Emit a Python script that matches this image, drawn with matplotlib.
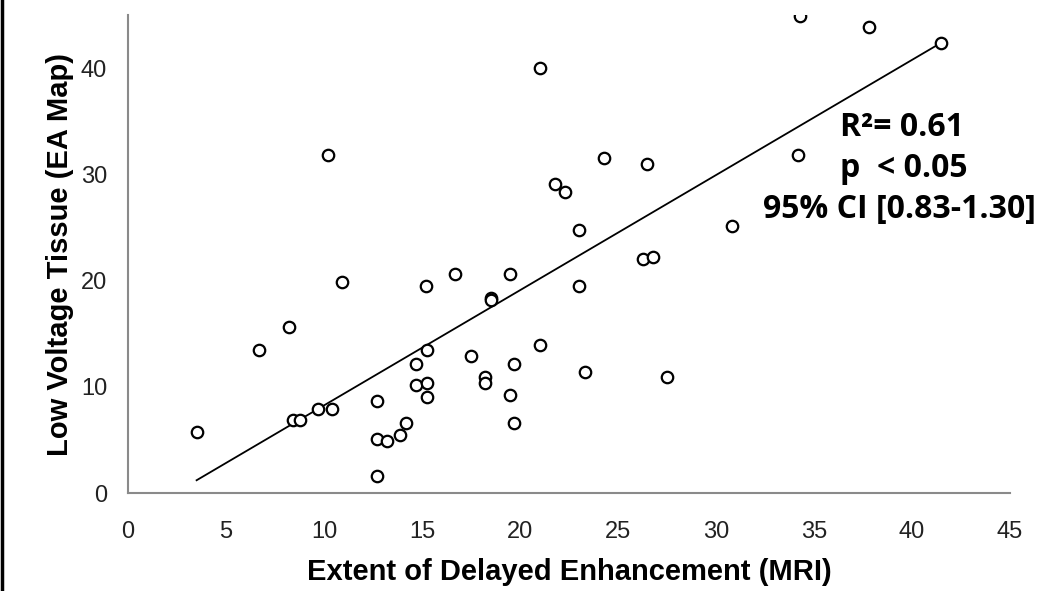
import numpy as np
import matplotlib.pyplot as plt
from matplotlib.lines import Line2D

# scatter values
mri_extent = [3.5, 6.7, 8.2, 8.4, 8.8, 9.7, 10.4, 10.2, 10.9,
              12.7, 12.7, 13.2, 12.7, 13.9, 14.2,
              14.7, 14.7, 15.25, 15.25, 15.25, 15.2,
              16.7, 17.5, 18.2, 18.2, 18.5, 18.5,
              19.5, 19.5, 19.7, 19.7, 21.0, 21.0,
              21.8, 22.3, 23.0, 23.0, 23.3, 24.3,
              26.3, 26.8, 26.5, 27.5, 30.8,
              34.2, 34.3, 37.8, 41.5]
low_voltage = [5.7, 13.5, 15.6, 6.9, 6.9, 7.9, 7.9, 31.8, 19.9,
               8.7, 5.1, 4.9, 1.6, 5.5, 6.6,
               12.1, 10.2, 10.4, 9.0, 13.5, 19.5,
               20.6, 12.9, 10.9, 10.4, 18.4, 18.2,
               9.2, 20.6, 12.1, 6.6, 13.9, 40.0,
               29.1, 28.3, 24.8, 19.5, 11.4, 31.5,
               22.0, 22.2, 31.0, 10.9, 25.1,
               31.8, 44.9, 43.9, 42.4]

# trend line end points
trend_x = [3.5, 41.5]
trend_y = [1.2, 42.4]

x_ticks = [0, 5, 10, 15, 20, 25, 30, 35, 40, 45]
y_ticks = [0, 10, 20, 30, 40]

fig = plt.figure(figsize=(10.5, 5.91), dpi=100)
ax = fig.add_axes([128/1050, 1-493/591, 882/1050, 478/591])

ax.plot(trend_x, trend_y, color='black', lw=1.3, zorder=2)
ax.scatter(mri_extent, low_voltage, s=68, facecolors='white',
           edgecolors='black', linewidths=1.6, zorder=3)

ax.set_xlim(0, 45)
ax.set_ylim(0, 45)
ax.set_xticks(x_ticks)
ax.set_yticks(y_ticks)
ax.tick_params(axis='both', length=0, labelsize=17, labelcolor='#222222')
ax.tick_params(axis='x', pad=20)
ax.tick_params(axis='y', pad=15)
for lab in ax.get_xticklabels() + ax.get_yticklabels():
    lab.set_family('Liberation Sans')

for side in ['top', 'right']:
    ax.spines[side].set_visible(False)
for side in ['left', 'bottom']:
    ax.spines[side].set_color('#8a8a8a')
    ax.spines[side].set_linewidth(1.5)

ax.set_xlabel('Extent of Delayed Enhancement (MRI)', fontsize=21,
              fontweight='bold', family='Liberation Sans', labelpad=11)
ax.set_ylabel('Low Voltage Tissue (EA Map)', fontsize=21,
              fontweight='bold', family='Liberation Sans', labelpad=5)

# stats text
fig.text(840/1050, 1-136/591, 'R²= 0.61', fontsize=23, fontweight='bold',
         family='Open Sans', ha='left', va='baseline')
fig.text(840/1050, 1-177/591, 'p  < 0.05', fontsize=23, fontweight='bold',
         family='Open Sans', ha='left', va='baseline')
fig.text(763/1050, 1-218/591, '95% CI [0.83-1.30]', fontsize=23, fontweight='bold',
         family='Open Sans', ha='left', va='baseline')

# black frame line at the left edge
fig.add_artist(Line2D([2/1050, 2/1050], [0, 1], color='black', lw=2.5))

fig.savefig('out.png', dpi=100)
